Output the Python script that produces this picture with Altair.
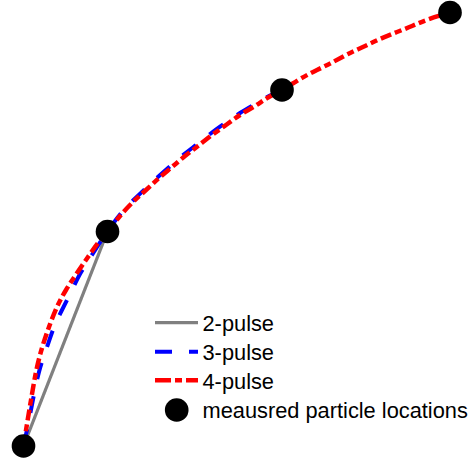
import altair as alt
import pandas as pd

# measured particle locations (plot units, y measured downward)
px = [23.5, 107.5, 282.0, 450.0]
py = [446.0, 231.5, 90.0, 12.5]

# 2-pulse reconstruction
x2 = [23.5, 107.5]
y2 = [446.0, 231.5]

# 3-pulse reconstruction
x3 = [23.5, 28, 32.5, 39, 46, 53, 61, 70, 80, 90, 99, 107.5,
      120, 133, 146, 159, 172, 185, 198, 212, 226, 240, 255, 268, 282]
y3 = [446.0, 425, 402, 372, 350, 330, 312, 294, 274, 258, 244, 231.5,
      214.5, 200.5, 188, 176, 164.5, 153.5, 143.5, 132.5, 122.5, 113, 104, 96.5, 90]

# 4-pulse reconstruction
x4 = [23.5, 27, 31, 36, 42, 49, 57, 66, 77, 88, 98, 107.5,
      120, 133, 146, 159, 172, 185, 198, 212, 226, 240, 255, 268, 282,
      300, 317, 333, 348, 364, 380, 397, 412, 428, 450]
y4 = [446.0, 424, 400, 372, 348, 327, 307, 290, 273, 257, 243, 231.5,
      216, 202, 190, 178, 167, 156, 146, 135, 125, 115, 106, 97.5, 90,
      79, 70, 62, 54, 46.5, 39, 32, 26, 19.5, 12.5]

labels = ["2-pulse", "3-pulse", "4-pulse"]
series_x = [x2, x3, x4]
series_y = [y2, y3, y4]
colors = ["#808080", "#0000ff", "#ff0000"]
dashes = [[1, 0], [17, 17], [11, 4, 7, 4]]
legend_dashes = [[1, 0], [17, 17], [16, 4, 7, 4]]
widths = [3.2, 4, 4.5]
point_label = "meausred particle locations"

xs = alt.Scale(domain=[0, 470], nice=False, zero=False)
ys = alt.Scale(domain=[0, 463], nice=False, zero=False, reverse=True)

layers = []
for lab, sx, sy, col, dsh, w in zip(labels, series_x, series_y, colors, dashes, widths):
    df = pd.DataFrame({"x": sx, "y": sy, "i": list(range(len(sx)))})
    layers.append(
        alt.Chart(df).mark_line(
            color=col, strokeDash=dsh, strokeWidth=w, interpolate="natural"
        ).encode(
            x=alt.X("x:Q", scale=xs, axis=None),
            y=alt.Y("y:Q", scale=ys, axis=None),
            order="i:Q",
        )
    )

pts = pd.DataFrame({"x": px, "y": py})
layers.append(
    alt.Chart(pts).mark_point(filled=True, shape="circle", size=560, color="black", opacity=1)
    .encode(x=alt.X("x:Q", scale=xs, axis=None), y=alt.Y("y:Q", scale=ys, axis=None))
)

# legend
sym_y = [322.7, 351.7, 380.3, 410]
txt_y = [331, 359.7, 388.5, 418]
base = alt.Chart(pd.DataFrame({"a": [0]}))
for k, (col, dsh, w) in enumerate(zip(colors, legend_dashes, widths)):
    layers.append(
        base.mark_rule(color=col, strokeDash=dsh, strokeWidth=w).encode(
            x=alt.value(155), x2=alt.value(198), y=alt.value(sym_y[k])
        )
    )
layers.append(
    base.mark_point(filled=True, shape="circle", size=560, color="black", opacity=1).encode(
        x=alt.value(176.7), y=alt.value(sym_y[3])
    )
)
for k, lab in enumerate(labels + [point_label]):
    layers.append(
        base.mark_text(text=lab, align="left", baseline="alphabetic", font="Liberation Sans",
                       fontSize=21.8, color="black").encode(
            x=alt.value(202.5), y=alt.value(txt_y[k])
        )
    )

chart = alt.layer(*layers).properties(
    width=470, height=463, padding=0, autosize=alt.AutoSizeParams(type="none")
).configure_view(stroke=None)

chart.save("out.html", embed_options={"renderer": "svg", "actions": False})
